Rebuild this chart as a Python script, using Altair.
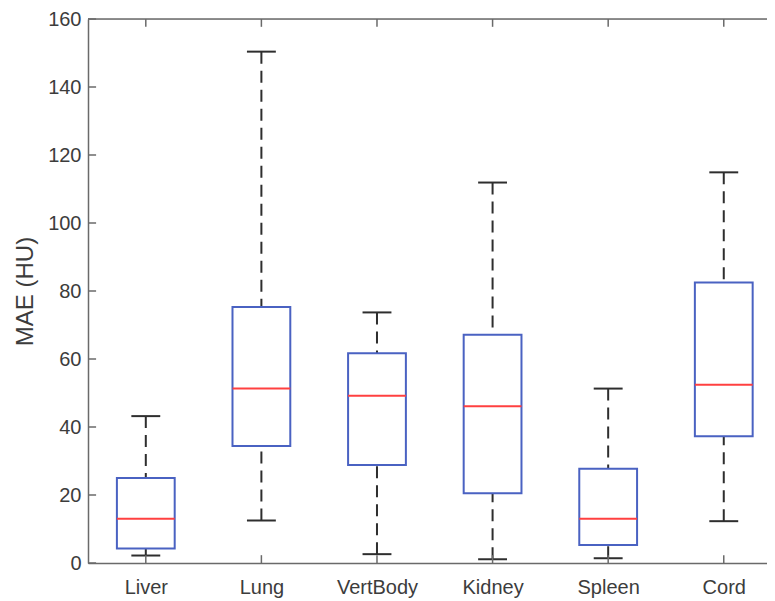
import altair as alt
import pandas as pd

# ---- data ----
organs = ["Liver", "Lung", "VertBody", "Kidney", "Spleen", "Cord"]
lower_whisker = [2.2, 12.5, 2.6, 1.1, 1.4, 12.3]
q1 = [4.3, 34.4, 28.8, 20.5, 5.3, 37.3]
median = [13.0, 51.3, 49.2, 46.1, 13.0, 52.4]
q3 = [25.0, 75.3, 61.7, 67.1, 27.7, 82.5]
upper_whisker = [43.2, 150.4, 73.7, 111.9, 51.3, 114.9]
y_ticks = [0, 20, 40, 60, 80, 100, 120, 140, 160]

X_MIN, X_MAX = 0.5, 6.374
Y_MIN, Y_MAX = 0, 160

FONT = "Liberation Sans"
AXIS_COLOR = "#6a6a6a"
TEXT_COLOR = "#3c3c3c"
BOX_COLOR = "#4a62c2"
MED_COLOR = "#ff4040"
WHISK_COLOR = "#2e2e2e"

df = pd.DataFrame({
    "organ": organs,
    "pos": list(range(1, len(organs) + 1)),
    "lo": lower_whisker,
    "q1": q1,
    "med": median,
    "q3": q3,
    "hi": upper_whisker,
})
ticks_df = pd.DataFrame({"val": y_ticks})
frame_df = pd.DataFrame({"a": [X_MIN], "b": [X_MAX], "top": [Y_MAX]})

xs = alt.Scale(domain=[X_MIN, X_MAX], nice=False, zero=False)
ys = alt.Scale(domain=[Y_MIN, Y_MAX], nice=False, zero=False)

label_expr = "[''," + ",".join("'%s'" % o for o in organs) + "][datum.value]"

x_axis = alt.Axis(
    values=list(range(1, len(organs) + 1)), labelExpr=label_expr, title=None,
    grid=False, ticks=False, tickSize=0, labelFontSize=20, labelFont=FONT,
    labelColor=TEXT_COLOR, labelPadding=30, labelBaseline="alphabetic",
    domainColor=AXIS_COLOR, domainWidth=1.5,
)
y_axis = alt.Axis(
    values=y_ticks, title="MAE (HU)", grid=False, ticks=False, tickSize=0,
    labelFontSize=20, labelFont=FONT, labelColor=TEXT_COLOR, labelPadding=7,
    titleFontSize=24, titleFont=FONT, titleFontWeight="normal",
    titleColor=TEXT_COLOR, titlePadding=10, domainColor=AXIS_COLOR, domainWidth=1.5,
)


def X(field):
    return alt.X(field, scale=xs, axis=x_axis)


def Y(field):
    return alt.Y(field, scale=ys, axis=y_axis)


base = alt.Chart(df).transform_calculate(
    left="datum.pos - 0.25",
    right="datum.pos + 0.25",
    capl="datum.pos - 0.125",
    capr="datum.pos + 0.125",
    top0=str(Y_MAX),
    top1=str(Y_MAX - 2.3),
    bot0=str(Y_MIN),
    bot1=str(Y_MIN + 2.3),
)

upper = base.mark_rule(color=WHISK_COLOR, strokeWidth=2, strokeDash=[12, 7]).encode(
    x=X("pos:Q"), y=Y("hi:Q"), y2="q3:Q",
)
lower = base.mark_rule(color=WHISK_COLOR, strokeWidth=2, strokeDash=[12, 7]).encode(
    x=X("pos:Q"), y=Y("lo:Q"), y2="q1:Q",
)
cap_hi = base.mark_rule(color=WHISK_COLOR, strokeWidth=2).encode(
    x=X("capl:Q"), x2="capr:Q", y=Y("hi:Q"),
)
cap_lo = base.mark_rule(color=WHISK_COLOR, strokeWidth=2).encode(
    x=X("capl:Q"), x2="capr:Q", y=Y("lo:Q"),
)
box = base.mark_rect(fill="white", stroke=BOX_COLOR, strokeWidth=2).encode(
    x=X("left:Q"), x2="right:Q", y=Y("q1:Q"), y2="q3:Q",
)
med = base.mark_rule(color=MED_COLOR, strokeWidth=2).encode(
    x=X("left:Q"), x2="right:Q", y=Y("med:Q"),
)
top_ticks = base.mark_rule(color=AXIS_COLOR, strokeWidth=1.5).encode(
    x=X("pos:Q"), y=Y("top0:Q"), y2="top1:Q",
)
bot_ticks = base.mark_rule(color=AXIS_COLOR, strokeWidth=1.5).encode(
    x=X("pos:Q"), y=Y("bot0:Q"), y2="bot1:Q",
)
left_ticks = alt.Chart(ticks_df).transform_calculate(
    a=str(X_MIN), b=str(X_MIN + 0.07)
).mark_rule(color=AXIS_COLOR, strokeWidth=1.5).encode(
    x=X("a:Q"), x2="b:Q", y=Y("val:Q"),
)
top_border = alt.Chart(frame_df).mark_rule(color=AXIS_COLOR, strokeWidth=1.5).encode(
    x=X("a:Q"), x2="b:Q", y=Y("top:Q"),
)

chart = alt.layer(
    upper, lower, cap_hi, cap_lo, box, med,
    top_ticks, bot_ticks, left_ticks, top_border,
).properties(
    width=679, height=544,
    autosize=alt.AutoSizeParams(type="none"),
    padding={"left": 80, "top": 11, "right": 0, "bottom": 36},
).configure_view(stroke=None).configure(background="white")

chart.save("out.html", embed_options={"renderer": "svg", "actions": False})
